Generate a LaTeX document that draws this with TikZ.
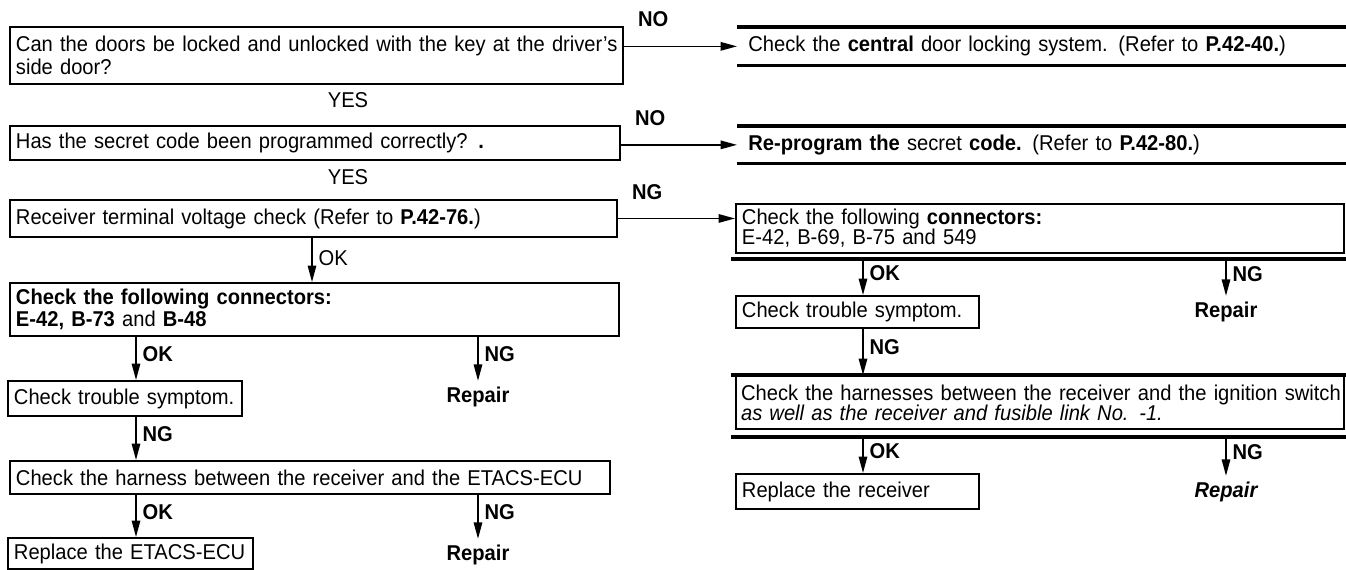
\documentclass[tikz,border=0pt]{standalone}
\usepackage{fontspec}
\setmainfont{Liberation Sans}[FakeStretch=0.94]
\usetikzlibrary{arrows.meta}

\begin{document}
\begin{tikzpicture}[>={Triangle[length=3.3mm,width=1.7mm]},
    every node/.style={font=\fontsize{12.2}{12.5}\selectfont},
    box/.style={draw, line width=1.1pt, anchor=north west, align=left, inner xsep=1.2mm, inner ysep=0pt},
    band/.style={anchor=north west, align=left, inner xsep=2.2mm, inner ysep=0pt},
    rule/.style={line width=1.8pt},
    flow/.style={->, line width=0.9pt},
    tag/.style={font=\fontsize{12.2}{12.5}\selectfont\bfseries, anchor=base west},
    ans/.style={right, pos=0.4, font=\fontsize{12.2}{12.5}\selectfont\bfseries},
    repair/.style={font=\fontsize{12.2}{12.5}\selectfont\bfseries}]
    \path[use as bounding box, fill=white] (0,0) rectangle (26.92,-11.4);
    % arrow columns
    \coordinate (colA) at (2.72,0);
    \coordinate (colB) at (6.24,0);
    \coordinate (colC) at (9.56,0);
    \coordinate (colD) at (17.26,0);
    \coordinate (colE) at (24.52,0);
    % first two questions
    \node[box, text width=12.02cm, minimum height=1.14cm, font=\fontsize{12.2}{13.2}\selectfont] (q1) at (0.18,-0.52)
        {Can the doors be locked and unlocked with the key at the driver’s\\side door?};
    \node[tag] (no1) at ([xshift=0.16cm]q1.north east) {NO};
    \node[band, text width=11.74cm, minimum height=0.76cm] (a1) at (14.74,-0.54)
        {Check the \textbf{central} door locking system. (Refer to \textbf{P.42-40.})};
    \draw[rule] (a1.north west) -- (a1.north east);
    \draw[rule] (a1.south west) -- (a1.south east);
    \draw[flow] (q1.east |- a1.west) -- (a1.west);
    \node (yes1) at (6.96,-2.0) {YES};
    \node[box, text width=11.96cm, minimum height=0.68cm] (q2) at (0.18,-2.5)
        {Has the secret code been programmed correctly?\enspace\textbf{.}};
    \node[tag] (no2) at ([xshift=0.16cm]q2.north east) {NO};
    \node[band, text width=11.74cm, minimum height=0.74cm] (a2) at (14.74,-2.52)
        {\textbf{Re-program the} secret \textbf{code.} (Refer to \textbf{P.42-80.})};
    \draw[rule] (a2.north west) -- (a2.north east);
    \draw[rule] (a2.south west) -- (a2.south east);
    \draw[flow] (q2.east |- a2.west) -- (a2.west);
    \node (yes2) at (6.96,-3.54) {YES};
    % voltage check
    \node[box, text width=11.9cm, minimum height=0.74cm] (q3) at (0.18,-3.98)
        {Receiver terminal voltage check (Refer to \textbf{P.42-76.})};
    \node[tag] (ng3) at ([xshift=0.16cm]q3.north east) {NG};
    % left branch
    \node[box, text width=11.94cm, minimum height=1.06cm] (q4) at (0.18,-5.64)
        {\textbf{Check the following connectors:}\\\textbf{E-42, B-73} and \textbf{B-48}};
    \draw[flow] (q3.south -| colB) -- node[right, pos=0.45] {OK} (q4.north -| colB);
    \node[box, text width=4.44cm, minimum height=0.7cm] (q5) at (0.14,-7.6) {Check trouble symptom.};
    \node[repair] (r1) at (9.56,-7.94) {Repair};
    \draw[flow] (q4.south -| colA) -- node[ans] {OK} (q5.north -| colA);
    \draw[flow] (q4.south -| colC) -- node[ans] {NG} (r1.north);
    \node[box, text width=11.76cm, minimum height=0.66cm] (q6) at (0.18,-9.2)
        {Check the harness between the receiver and the ETACS-ECU};
    \draw[flow] (q5.south -| colA) -- node[ans] {NG} (q6.north -| colA);
    \node[box, text width=4.66cm, minimum height=0.62cm] (q7) at (0.14,-10.74) {Replace the ETACS-ECU};
    \node[repair] (r2) at (9.56,-11.1) {Repair};
    \draw[flow] (q6.south -| colA) -- node[ans] {OK} (q7.north -| colA);
    \draw[flow] (q6.south -| colC) -- node[ans] {NG} (r2.north);
    % right branch
    \node[box, text width=11.92cm, minimum height=0.98cm, font=\fontsize{12.2}{11.5}\selectfont] (c1) at (14.7,-4.06)
        {Check the following \textbf{connectors:}\\E-42, B-69, B-75 and 549};
    \coordinate (c1r) at ([yshift=-0.1cm]c1.south);
    \draw[rule] ([xshift=-0.08cm]c1r -| c1.west) -- ([xshift=0.06cm]c1r -| c1.east);
    \draw[flow] (q3.east) -- (q3.east -| c1.west);
    \node[box, text width=4.62cm, minimum height=0.64cm] (c2) at (14.7,-5.9) {Check trouble symptom.};
    \node[repair] (r3) at (24.52,-6.24) {Repair};
    \draw[flow] (c1r -| colD) -- node[ans] {OK} (c2.north -| colD);
    \draw[flow] (c1r -| colE) -- node[ans] {NG} (r3.north);
    \node[box, text width=12.1cm, inner xsep=0.3mm, minimum height=1.06cm, font=\fontsize{12.2}{11.5}\selectfont] (c3) at (14.7,-7.5)
        {\,Check the harnesses between the receiver and the ignition switch\\\,\textit{as well as the receiver and fusible link No. -1.}};
    \coordinate (c3r) at ([yshift=-0.14cm]c3.south);
    \draw[rule] ([xshift=-0.08cm]c3.north west) -- ([xshift=0.06cm]c3.north east);
    \draw[rule] ([xshift=-0.08cm]c3r -| c3.west) -- ([xshift=0.06cm]c3r -| c3.east);
    \draw[flow] (c2.south -| colD) -- node[ans] {NG} (c3.north -| colD);
    \node[box, text width=4.62cm, minimum height=0.7cm] (c4) at (14.7,-9.46) {Replace the receiver};
    \node[repair, font=\fontsize{12.2}{12.5}\selectfont\bfseries\itshape] (r4) at (24.52,-9.84) {Repair};
    \draw[flow] (c3r -| colD) -- node[ans] {OK} (c4.north -| colD);
    \draw[flow] (c3r -| colE) -- node[ans] {NG} (r4.north);
\end{tikzpicture}
\end{document}
